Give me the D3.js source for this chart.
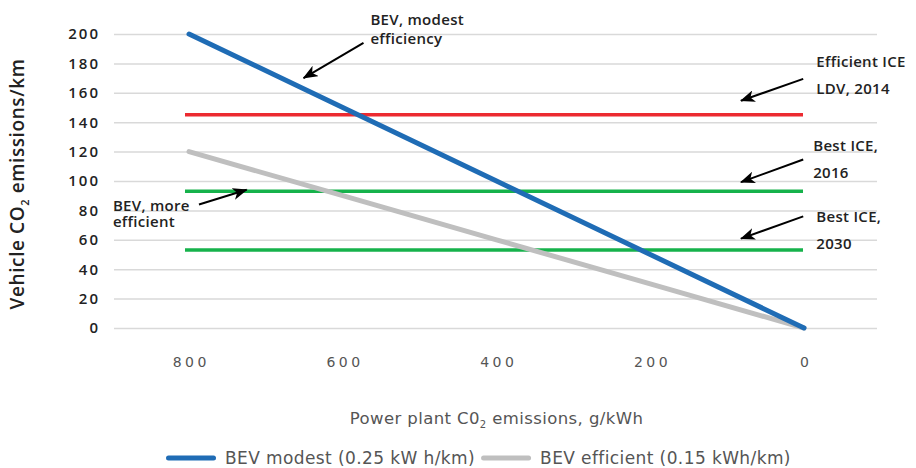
<!DOCTYPE html>
<html><head><meta charset="utf-8">
<script src="https://cdn.jsdelivr.net/npm/d3@7"></script>
<style>
body{margin:0;background:#fff;}
svg{display:block;font-family:"Open Sans",sans-serif;}
</style></head>
<body><svg id="c" width="916" height="468"></svg>
<script>
// ---- data ----
const powerPlant = [800, 600, 400, 200, 0];            // g/kWh
const bevModest = [200, 150, 100, 50, 0];              // g/km
const bevEfficient = [120, 90, 60, 30, 0];             // g/km
const iceNames = ["Efficient ICE LDV, 2014", "Best ICE, 2016", "Best ICE, 2030"];
const iceValues = [145, 93, 53];
const yTicks = [0, 20, 40, 60, 80, 100, 120, 140, 160, 180, 200];
const xTicks = [800, 600, 400, 200, 0];
const legendLabels = ["BEV modest (0.25 kW h/km)", "BEV efficient (0.15 kWh/km)"];
// annotation text lines and arrow tail/tip in data units (power, g/km)
const annoLines = [["BEV, modest", "efficiency"], ["Efficient ICE", "LDV, 2014"], ["Best ICE,", "2016"], ["Best ICE,", "2030"], ["BEV, more", "efficient"]];
const annoText = [[564, 210], [-16, 181], [-12, 124], [-16, 76], [899, 83]];
const annoTail = [[573, 194], [1, 169.5], [1, 114.6], [1, 75.9], [787, 84]];
const annoTip = [[651, 170], [82, 154.6], [82, 99.2], [82, 60.8], [725, 94]];

// ---- style ----
const colBlue = "#1f6cb5", colGray = "#bfbfbf", colRed = "#ec2a30", colGreen = "#16b24b";
const iceColors = [colRed, colGreen, colGreen];
const annoLineGap = [19, 27, 27, 27, 15.5];

const svg = d3.select("#c");
const x = d3.scaleLinear().domain([800, 0]).range([189, 804]);
const y = d3.scaleLinear().domain([0, 200]).range([328, 34]);
const gridLeft = 114, gridRight = 877;

// y grid + labels
const gy = svg.append("g").attr("transform", `translate(${gridLeft},0)`)
  .call(d3.axisLeft(y).tickValues(yTicks).tickSize(-(gridRight - gridLeft)).tickPadding(16));
gy.select(".domain").remove();
gy.selectAll(".tick line").attr("stroke", "#d9d9d9").attr("stroke-width", 1.5);
gy.selectAll(".tick text").attr("fill", "#222").attr("font-size", 15).attr("font-weight", 600)
  .attr("font-family", "'Open Sans',sans-serif").attr("letter-spacing", 2).attr("dx", 2);

// x axis labels
const gx = svg.append("g").attr("transform", "translate(0,362)")
  .call(d3.axisBottom(x).tickValues(xTicks).tickSize(0).tickPadding(0));
gx.select(".domain").remove();
gx.selectAll(".tick text").attr("dy", "0.35em").attr("fill", "#555").attr("font-size", 14)
  .attr("font-family", "'DejaVu Sans',sans-serif").attr("letter-spacing", 3.5).attr("dx", 1.75);

// ICE reference lines
iceValues.forEach((v, i) => {
  svg.append("line").attr("x1", x(800) - 4).attr("x2", x(0) - 1)
    .attr("y1", y(v)).attr("y2", y(v)).attr("stroke", iceColors[i]).attr("stroke-width", 3.5);
});

// BEV lines
const line = d3.line().x((d, i) => x(powerPlant[i])).y(d => y(d));
svg.append("path").datum(bevEfficient).attr("d", line).attr("fill", "none")
  .attr("stroke", colGray).attr("stroke-width", 5).attr("stroke-linecap", "round");
svg.append("path").datum(bevModest).attr("d", line).attr("fill", "none")
  .attr("stroke", colBlue).attr("stroke-width", 5).attr("stroke-linecap", "round");

// arrows
const defs = svg.append("defs");
defs.append("marker").attr("id", "ah").attr("viewBox", "0 0 15 12").attr("refX", 14).attr("refY", 6)
  .attr("markerWidth", 15).attr("markerHeight", 12).attr("markerUnits", "userSpaceOnUse").attr("orient", "auto")
  .append("path").attr("d", "M0,0 L15,6 L0,12 L4,6 Z").attr("fill", "#000");
annoLines.forEach((lines, i) => {
  svg.append("line").attr("x1", x(annoTail[i][0])).attr("y1", y(annoTail[i][1]))
    .attr("x2", x(annoTip[i][0])).attr("y2", y(annoTip[i][1]))
    .attr("stroke", "#000").attr("stroke-width", 2).attr("marker-end", "url(#ah)");
  const t = svg.append("text").attr("font-size", 15).attr("font-weight", 600).attr("fill", "#222")
    .attr("letter-spacing", 0.3);
  lines.forEach((s, j) => {
    t.append("tspan").attr("x", x(annoText[i][0])).attr("y", y(annoText[i][1]) + j * annoLineGap[i])
      .attr("dy", "0.35em").text(s);
  });
});

// y title
const yt = svg.append("text").attr("transform", "translate(17,184) rotate(-90)")
  .attr("text-anchor", "middle").attr("dy", "0.35em").attr("font-size", 19).attr("font-weight", 600)
  .attr("fill", "#222").attr("letter-spacing", 0.6);
yt.append("tspan").text("Vehicle CO");
yt.append("tspan").attr("font-size", 11).attr("dy", 5).text("2");
yt.append("tspan").attr("dy", -5).text(" emissions/km");

// x title
const xt = svg.append("text").attr("x", (x(800) + x(0)) / 2).attr("y", 424)
  .attr("text-anchor", "middle").attr("font-size", 16.5).attr("fill", "#555")
  .attr("font-family", "'DejaVu Sans',sans-serif").attr("letter-spacing", 0.4);
xt.append("tspan").text("Power plant C0");
xt.append("tspan").attr("font-size", 10).attr("dy", 4).text("2");
xt.append("tspan").attr("dy", -4).text(" emissions, g/kWh");

// legend
const legColors = [colBlue, colGray];
const leg = svg.append("g").attr("transform", "translate(166,458)");
let lx = 0;
legendLabels.forEach((lab, i) => {
  leg.append("line").attr("x1", lx + 2.5).attr("x2", lx + 47.5).attr("y1", 0).attr("y2", 0)
    .attr("stroke", legColors[i]).attr("stroke-width", 5).attr("stroke-linecap", "round");
  const t = leg.append("text").attr("x", lx + 59).attr("dy", "0.35em").attr("font-size", 17)
    .attr("font-family", "'DejaVu Sans',sans-serif").attr("fill", "#555").attr("letter-spacing", 0.4).text(lab);
  lx = lx + 59 + t.node().getComputedTextLength() + 6;
});
</script></body></html>
